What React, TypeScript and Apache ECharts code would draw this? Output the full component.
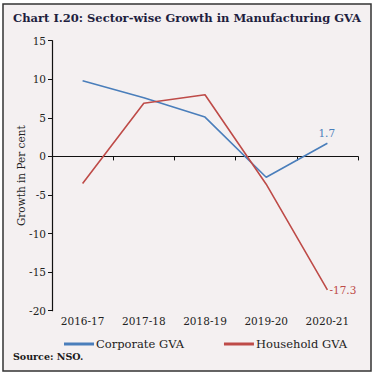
import React, { useEffect, useRef } from "react";
import * as echarts from "echarts";

const categories = ["2016-17", "2017-18", "2018-19", "2019-20", "2020-21"];
const corporateGVA = [9.8, 7.6, 5.1, -2.7, 1.7];
const householdGVA = [-3.5, 6.9, 8.0, -3.6, -17.3];
const yTicks = { min: -20, max: 15, interval: 5 };

const BLUE = "#4a7ebb";
const RED = "#be4b48";
const FONT = "DejaVu Serif";

export default function App() {
  const ref = useRef<HTMLDivElement>(null);
  useEffect(() => {
    if (!ref.current) return;
    const chart = echarts.init(ref.current, undefined, { renderer: "svg" });
    chart.setOption({
      animation: false,
      backgroundColor: "#ffffff",
      graphic: [
        {
          type: "rect",
          shape: { x: 3, y: 4, width: 368, height: 367 },
          style: { fill: "#f4f0f1", stroke: "#333333", lineWidth: 1.5 },
          z: -10,
        },
        {
          type: "text",
          left: "center",
          top: 12,
          style: {
            text: "Chart I.20: Sector-wise Growth in Manufacturing GVA",
            fontFamily: FONT,
            fontWeight: "bold",
            fontSize: 11.5,
            fill: "#1f1f3f",
          },
        },
        {
          type: "text",
          left: 13,
          top: 351,
          style: {
            text: "Source: NSO.",
            fontFamily: FONT,
            fontWeight: "bold",
            fontSize: 9.5,
            fill: "#1a1a1a",
          },
        },
      ],
      grid: { left: 52, right: 16, top: 40.7, bottom: 66.3 },
      legend: {
        left: 59,
        top: 333,
        itemWidth: 30,
        itemHeight: 3,
        itemGap: 40,
        icon: "rect",
        textStyle: { fontFamily: FONT, fontSize: 11.5, color: "#222", padding: [0, 0, 0, -3] },
        data: [
          { name: "Corporate GVA", itemStyle: { color: BLUE } },
          { name: "Household GVA", itemStyle: { color: RED } },
        ],
      },
      xAxis: [
        {
          type: "category",
          data: categories,
          boundaryGap: true,
          axisLine: { onZero: true, lineStyle: { color: "#111", width: 1.2 } },
          axisTick: { show: true, inside: false, length: 4, lineStyle: { color: "#111" } },
          axisLabel: { show: false },
        },
        {
          type: "category",
          data: categories,
          position: "bottom",
          boundaryGap: true,
          axisLine: { show: false, onZero: false },
          axisTick: { show: false },
          axisLabel: { show: true, fontFamily: FONT, fontSize: 10.5, color: "#222", margin: 5 },
        },
      ],
      yAxis: {
        type: "value",
        min: yTicks.min,
        max: yTicks.max,
        interval: yTicks.interval,
        name: "Growth in Per cent",
        nameLocation: "middle",
        nameGap: 26,
        nameMoveOverlap: false,
        nameTextStyle: { fontFamily: FONT, fontSize: 10.5, color: "#222" },
        splitLine: { show: false },
        axisLine: { show: true, lineStyle: { color: "#111", width: 1.2 } },
        axisTick: { show: true, length: 4, lineStyle: { color: "#111" } },
        axisLabel: { fontFamily: FONT, fontSize: 10.5, color: "#222", margin: 6 },
      },
      series: [
        {
          name: "Corporate GVA",
          type: "line",
          data: corporateGVA,
          symbol: "none",
          color: BLUE,
          lineStyle: { color: BLUE, width: 1.6 },
          endLabel: {
            show: true,
            color: BLUE,
            fontFamily: FONT,
            fontSize: 10.5,
            distance: 0,
            offset: [-9, -10],
            formatter: (p: any) => String(p.value),
          },
        },
        {
          name: "Household GVA",
          type: "line",
          data: householdGVA,
          symbol: "none",
          color: RED,
          lineStyle: { color: RED, width: 1.6 },
          endLabel: {
            show: true,
            color: RED,
            fontFamily: FONT,
            fontSize: 10.5,
            distance: 2,
            formatter: (p: any) => String(p.value),
          },
        },
      ],
    });
    return () => chart.dispose();
  }, []);
  return (
    <div
      ref={ref}
      style={{ position: "absolute", left: 0, top: 0, width: 374, height: 377 }}
    />
  );
}
